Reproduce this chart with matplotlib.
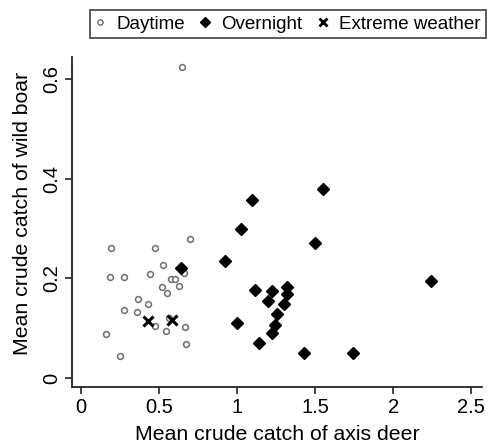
import matplotlib
matplotlib.use("Agg")
import matplotlib.pyplot as plt
from matplotlib.lines import Line2D

plt.rcParams['font.family'] = ['Liberation Sans', 'DejaVu Sans']

day_x = [0.701, 0.194, 0.477, 0.524, 0.660, 0.183, 0.275, 0.443, 0.575, 0.603,
         0.626, 0.522, 0.554, 0.366, 0.428, 0.275, 0.358, 0.562, 0.475, 0.669,
         0.547, 0.158, 0.675, 0.251, 0.650]
day_y = [0.279, 0.262, 0.262, 0.228, 0.212, 0.204, 0.204, 0.209, 0.199, 0.199,
         0.185, 0.182, 0.170, 0.158, 0.149, 0.136, 0.133, 0.121, 0.105, 0.103,
         0.095, 0.088, 0.069, 0.044, 0.625]

night_x = [0.641, 1.548, 1.093, 1.024, 1.497, 0.920, 2.241, 1.114, 1.225, 1.318,
           1.318, 1.197, 1.302, 1.257, 1.001, 1.244, 1.225, 1.139, 1.427, 1.746]
night_y = [0.221, 0.380, 0.357, 0.299, 0.272, 0.236, 0.194, 0.177, 0.175, 0.182,
           0.169, 0.155, 0.149, 0.128, 0.110, 0.107, 0.090, 0.070, 0.050, 0.050]

ext_x = [0.428, 0.583]
ext_y = [0.114, 0.116]

x_ticks = [0, 0.5, 1, 1.5, 2, 2.5]
x_ticklabels = ['0', '0.5', '1', '1.5', '2', '2.5']
y_ticks = [0, 0.2, 0.4, 0.6]
y_ticklabels = ['0', '0.2', '0.4', '0.6']

fig = plt.figure(figsize=(4.88, 4.46), dpi=100)
ax = fig.add_axes([72/488, 1-387/446, (482-72)/488, (387-57)/446])

ax.plot(day_x, day_y, linestyle='none', marker='o', markersize=4.2,
        markerfacecolor='white', markeredgecolor='#6e6e6e', markeredgewidth=1.1)
ax.plot(night_x, night_y, linestyle='none', marker='D', markersize=6.2,
        markerfacecolor='black', markeredgecolor='black')
ax.plot(ext_x, ext_y, linestyle='none', marker='x', markersize=7.5,
        markeredgecolor='black', markeredgewidth=2.2)

ax.set_xlim(-0.0577, 2.57)
ax.set_ylim(-0.018, 0.645)
ax.set_xticks(x_ticks)
ax.set_xticklabels(x_ticklabels)
ax.set_yticks(y_ticks)
ax.set_yticklabels(y_ticklabels, rotation=90, va='center')
ax.tick_params(labelsize=14.5, length=5, width=1.2, color='#222222', pad=3)
for s in ['top', 'right']:
    ax.spines[s].set_visible(False)
for s in ['left', 'bottom']:
    ax.spines[s].set_linewidth(1.3)
    ax.spines[s].set_color('#222222')

ax.set_xlabel('Mean crude catch of axis deer', fontsize=15.3, labelpad=6)
ax.set_ylabel('Mean crude catch of wild boar', fontsize=15.3)
ax.yaxis.set_label_coords(-0.097, 0.525)

handles = [
    Line2D([], [], linestyle='none', marker='o', markersize=3.8,
           markerfacecolor='white', markeredgecolor='#6e6e6e', markeredgewidth=1.0),
    Line2D([], [], linestyle='none', marker='D', markersize=5.5,
           markerfacecolor='black', markeredgecolor='black'),
    Line2D([], [], linestyle='none', marker='x', markersize=6,
           markeredgecolor='black', markeredgewidth=2.0),
]
labels = ['Daytime', 'Overnight', 'Extreme weather']
leg = fig.legend(handles, labels, ncol=3, loc='upper left',
                 bbox_to_anchor=(90/488, 1-10/446), fontsize=13.5,
                 frameon=True, fancybox=False, edgecolor='#222222',
                 handlelength=0.5, handletextpad=0.6, columnspacing=0.84,
                 borderpad=0.3, borderaxespad=0)
leg.get_frame().set_linewidth(1.3)

fig.savefig('out.png', dpi=100)
